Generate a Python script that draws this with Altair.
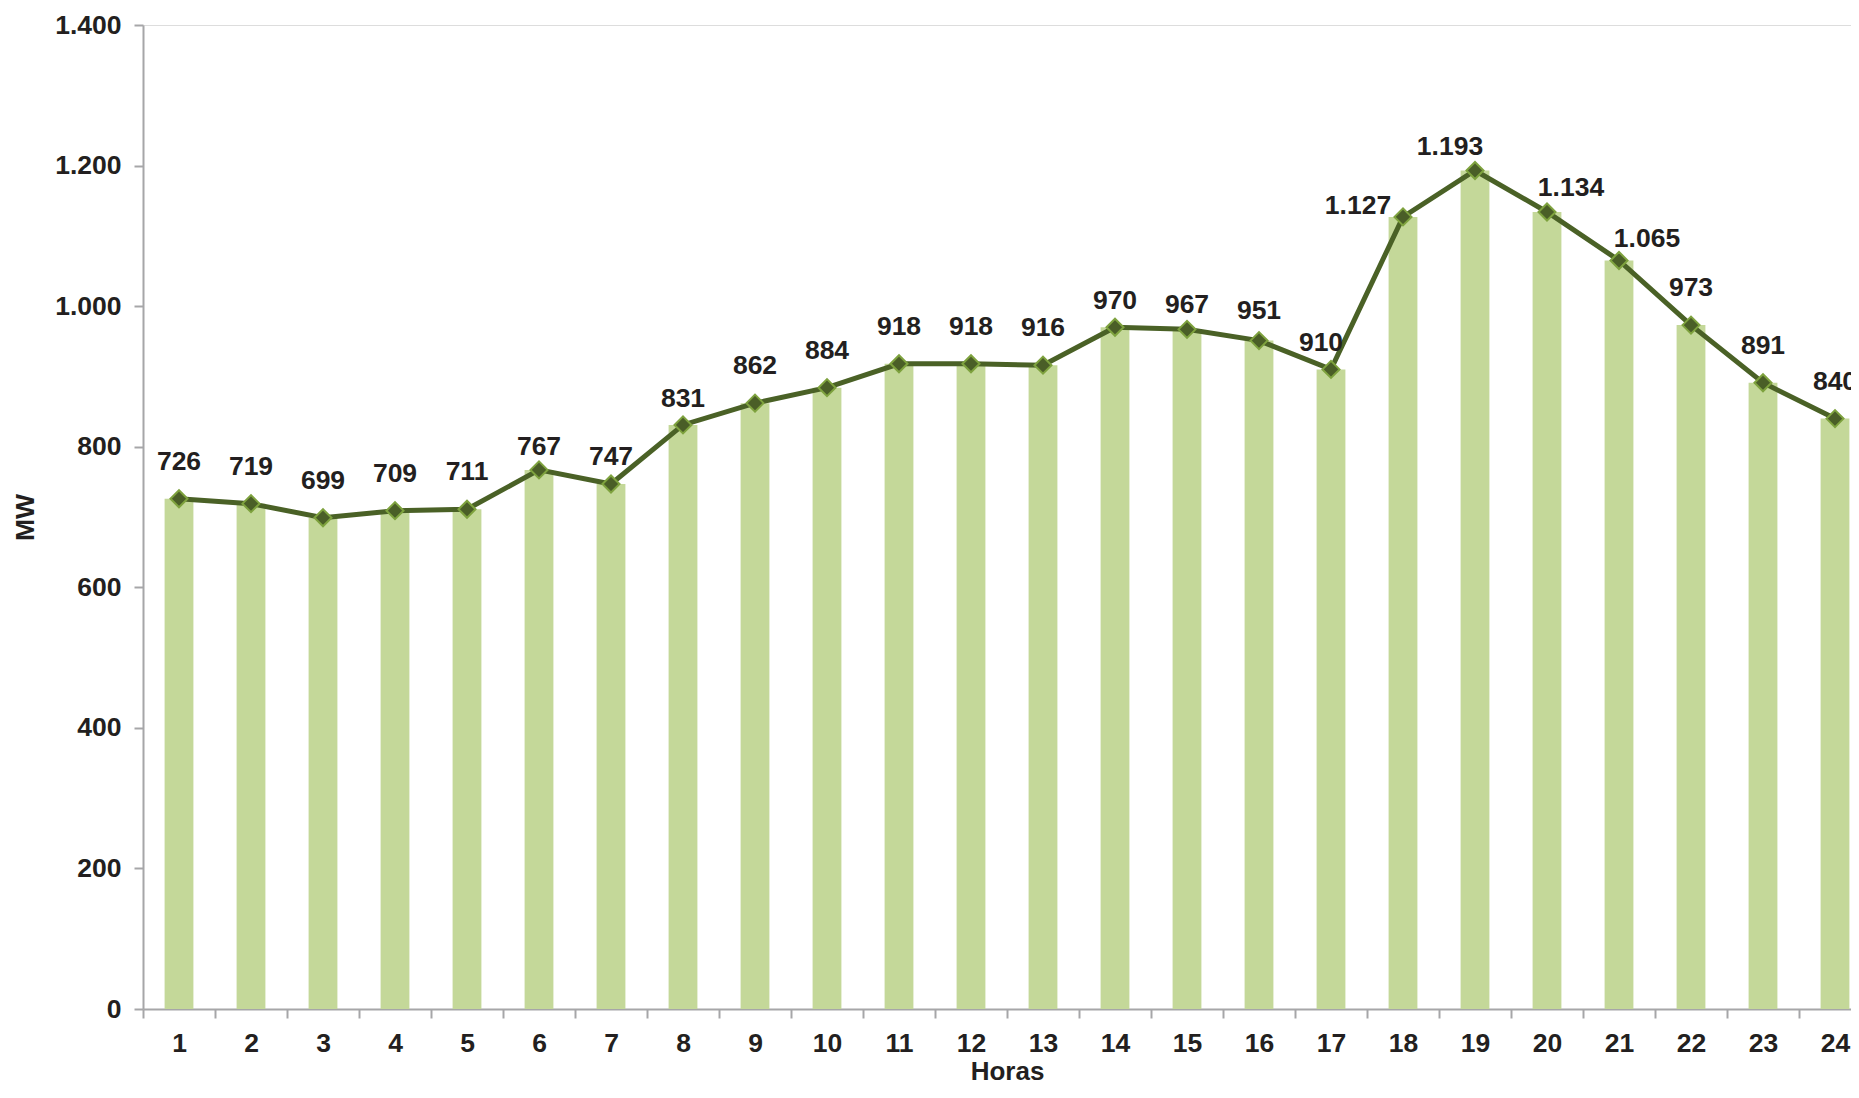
import altair as alt
import pandas as pd

# ---- data ----
horas = list(range(1, 25))
mw = [726, 719, 699, 709, 711, 767, 747, 831, 862, 884, 918, 918,
      916, 970, 967, 951, 910, 1127, 1193, 1134, 1065, 973, 891, 840]
y_ticks = [0, 200, 400, 600, 800, 1000, 1200, 1400]
# hand-placed label nudges (px) as in the original
label_nudge_dx = [0, 0, 0, 0, 0, 0, 0, 0, 0, 0, 0, 0,
                  0, 0, 0, 0, -10, -45, -25, 24, 28, 0, 0, 0]
label_nudge_dy = [0, 0, 0, 0, 0, 14, 10, 11, 0, 0, 0, 0,
                  0, 11, 13, 7, 11, 26, 14, 13, 16, 0, 0, 0]

FONT = "Liberation Sans"
TXT = "#231F20"
AXC = "#A6A6A8"
FS = 26.5

df = pd.DataFrame({"Hora": horas, "MW": mw,
                   "ndx": label_nudge_dx, "ndy": label_nudge_dy})

x_enc = alt.X(
    "Hora:O",
    scale=alt.Scale(range=[0, 1728], paddingInner=0, paddingOuter=0),
    axis=alt.Axis(
        title="Horas", labelAngle=0, tickBand="extent",
        domainColor=AXC, domainWidth=2, tickColor=AXC, tickWidth=2, tickSize=9,
        labelFont=FONT, labelFontSize=FS, labelFontWeight="bold", labelColor=TXT,
        labelPadding=12, titleFont=FONT, titleFontSize=26, titleFontWeight="bold",
        titleColor=TXT, titlePadding=2, grid=False,
    ),
)
y_enc = alt.Y(
    "MW:Q",
    scale=alt.Scale(domain=[0, 1400], nice=False),
    axis=alt.Axis(
        title="MW", values=y_ticks, grid=False,
        labelExpr="replace(format(datum.value, ','), ',', '.')",
        domainColor=AXC, domainWidth=2, tickColor=AXC, tickWidth=2, tickSize=9,
        labelFont=FONT, labelFontSize=FS, labelFontWeight="bold", labelColor=TXT,
        labelPadding=13, titleFont=FONT, titleFontSize=26.5, titleFontWeight="bold",
        titleColor=TXT, titlePadding=15,
    ),
)

base = alt.Chart(df).encode(x=x_enc, y=y_enc)

bars = base.mark_bar(color="#C4D899", width=alt.RelativeBandSize(0.4))
line = base.mark_line(color="#4A6126", strokeWidth=5)
points = base.mark_point(shape="diamond", size=290, filled=True,
                         fill="#4A5E27", stroke="#7EA23E", strokeWidth=2,
                         opacity=1)

labelled = base.transform_calculate(
    lbl="replace(format(datum.MW, ','), ',', '.')"
)

layers = [bars, line, points]
pairs = sorted(set(zip(label_nudge_dx, label_nudge_dy)))
for dx, dy in pairs:
    hs = [h for h, a, b in zip(horas, label_nudge_dx, label_nudge_dy) if (a, b) == (dx, dy)]
    layers.append(
        labelled.transform_filter(alt.FieldOneOfPredicate(field="Hora", oneOf=hs))
        .mark_text(font=FONT, fontSize=FS, fontWeight="bold", color=TXT,
                   baseline="alphabetic", align="center", dx=dx, dy=-29 + dy)
        .encode(text="lbl:N")
    )

chart = alt.layer(*layers).properties(
    width=1708, height=984,
    autosize=alt.AutoSizeParams(type="none"),
    padding={"left": 135, "top": 17, "right": 0, "bottom": 81},
).configure_view(stroke=None).configure(background="white")

chart.save("out.html", embed_options={"renderer": "svg", "actions": False})
